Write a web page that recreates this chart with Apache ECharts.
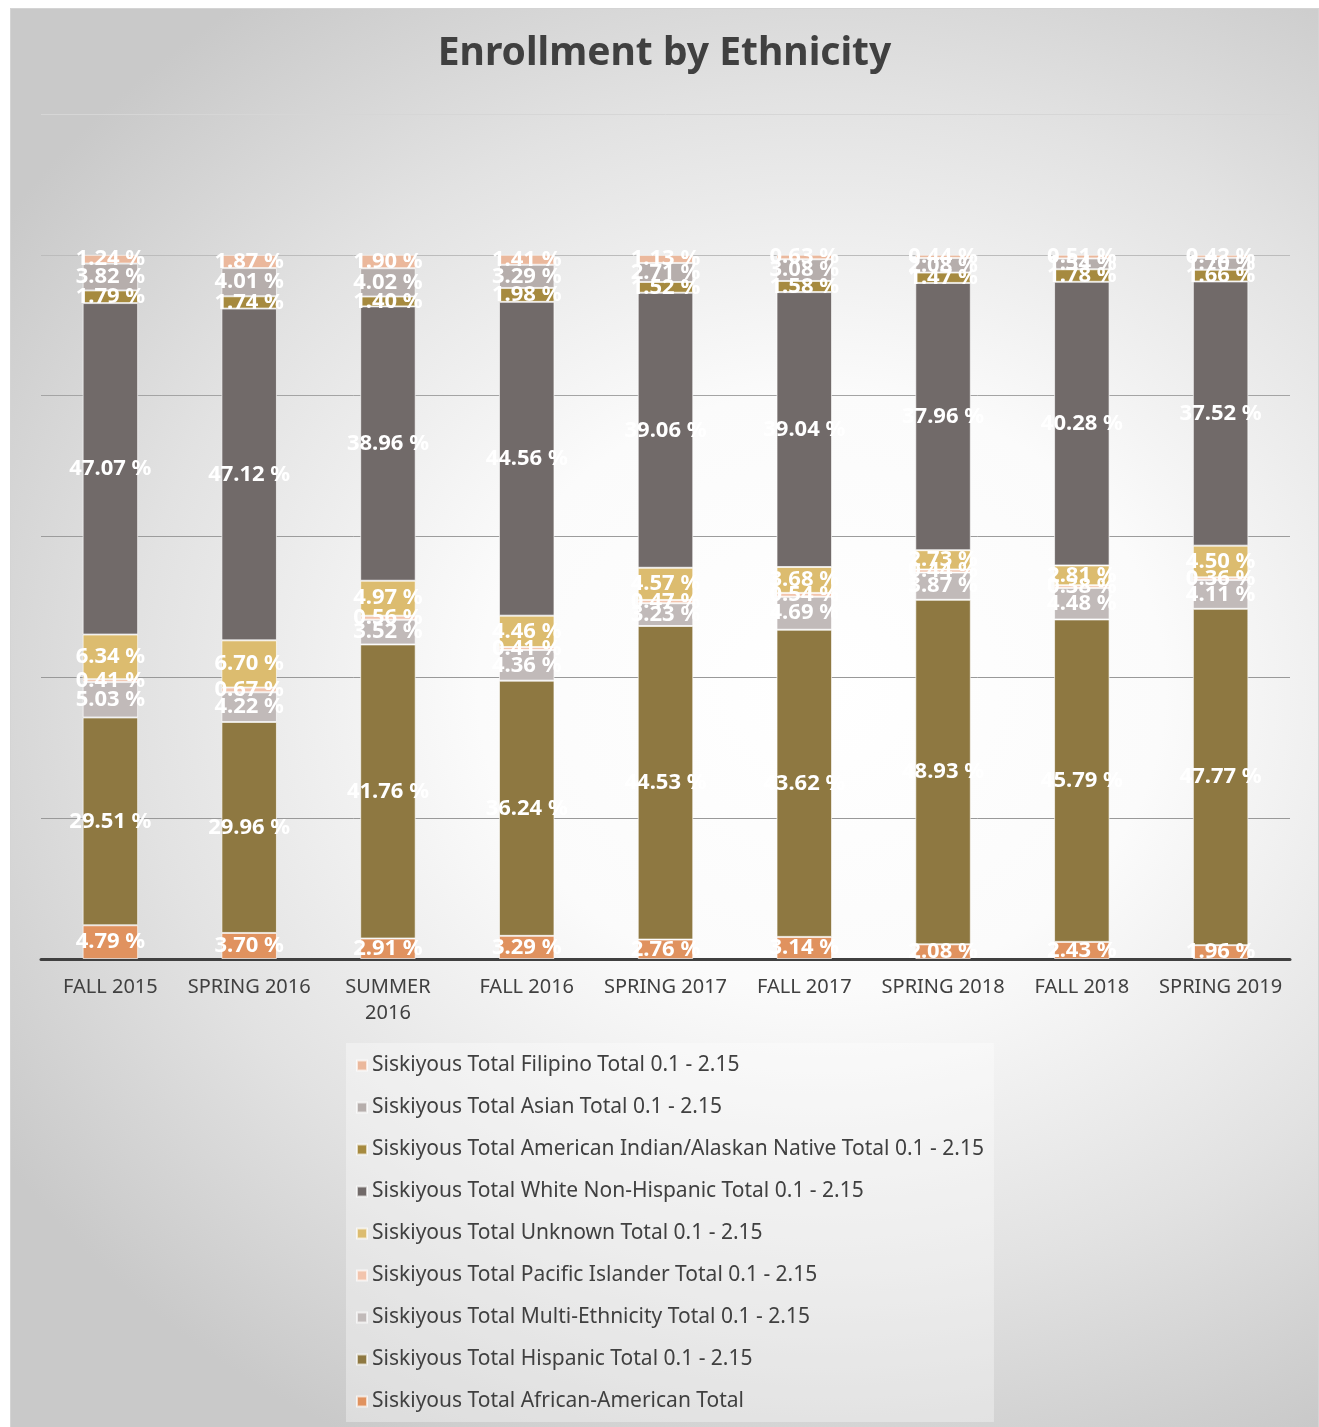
<!DOCTYPE html>
<html>
<head>
<meta charset="utf-8">
<script src="https://cdn.jsdelivr.net/npm/echarts@6/dist/echarts.min.js"></script>
<style>
  html, body { margin: 0; padding: 0; background: #fff; }
  #frame {
    position: absolute; left: 10px; top: 8px; width: 1307px; height: 1418px;
    border: 1px solid #d4d4d4;
    background: radial-gradient(ellipse 75% 60% at 62% 48%, #ffffff 0%, #fbfbfb 35%, #e2e2e2 70%, #c9c9c9 100%);
  }
  #chart { width: 100%; height: 100%; }
</style>
</head>
<body>
<div id="frame"><div id="chart"></div></div>
<script>
var terms = ['FALL 2015', 'SPRING 2016', 'SUMMER\n2016', 'FALL 2016', 'SPRING 2017', 'FALL 2017', 'SPRING 2018', 'FALL 2018', 'SPRING 2019'];

// stacked bottom -> top
var africanAmerican = [4.79, 3.70, 2.91, 3.29, 2.76, 3.14, 2.08, 2.43, 1.96];
var hispanic        = [29.51, 29.96, 41.76, 36.24, 44.53, 43.62, 48.93, 45.79, 47.77];
var multiEthnicity  = [5.03, 4.22, 3.52, 4.36, 3.23, 4.69, 3.87, 4.48, 4.11];
var pacificIslander = [0.41, 0.67, 0.56, 0.41, 0.47, 0.54, 0.44, 0.38, 0.36];
var unknown         = [6.34, 6.70, 4.97, 4.46, 4.57, 3.68, 2.73, 2.81, 4.50];
var whiteNonHisp    = [47.07, 47.12, 38.96, 44.56, 39.06, 39.04, 37.96, 40.28, 37.52];
var amIndian        = [1.79, 1.74, 1.40, 1.98, 1.52, 1.58, 1.47, 1.78, 1.66];
var asian           = [3.82, 4.01, 4.02, 3.29, 2.71, 3.08, 2.08, 1.54, 1.70];
var filipino        = [1.24, 1.87, 1.90, 1.41, 1.13, 0.63, 0.44, 0.51, 0.42];

var groups = [
  { name: 'Siskiyous Total African-American Total', data: africanAmerican, color: '#e0925f' },
  { name: 'Siskiyous Total Hispanic Total 0.1 - 2.15', data: hispanic, color: '#8e7841' },
  { name: 'Siskiyous Total Multi-Ethnicity Total 0.1 - 2.15', data: multiEthnicity, color: '#c1bab9' },
  { name: 'Siskiyous Total Pacific Islander Total 0.1 - 2.15', data: pacificIslander, color: '#f2c4ad' },
  { name: 'Siskiyous Total Unknown Total 0.1 - 2.15', data: unknown, color: '#dcbc6f' },
  { name: 'Siskiyous Total White Non-Hispanic Total 0.1 - 2.15', data: whiteNonHisp, color: '#716a69' },
  { name: 'Siskiyous Total American Indian/Alaskan Native Total 0.1 - 2.15', data: amIndian, color: '#a68a3f' },
  { name: 'Siskiyous Total Asian Total 0.1 - 2.15', data: asian, color: '#b6aeac' },
  { name: 'Siskiyous Total Filipino Total 0.1 - 2.15', data: filipino, color: '#ebb89c' }
];

var fontFam = '"Noto Sans", Lato, sans-serif';

var chart = echarts.init(document.getElementById('chart'));
chart.setOption({
  title: {
    text: 'Enrollment by Ethnicity',
    left: 'center',
    top: 20,
    textStyle: { fontFamily: fontFam, fontSize: 39, fontWeight: 'bold', color: '#404040' }
  },
  legend: {
    orient: 'vertical',
    left: 335,
    top: 1034,
    padding: [12, 10, 10, 10],
    itemGap: 21,
    itemWidth: 10,
    itemHeight: 10,
    icon: 'rect',
    backgroundColor: 'rgba(255,255,255,0.35)',
    data: groups.map(function (g) { return g.name; }).reverse(),
    textStyle: { fontFamily: fontFam, fontSize: 21, color: '#404040', lineHeight: 21 }
  },
  grid: { left: 30, right: 28, top: 105, bottom: 468 },
  xAxis: {
    type: 'category',
    data: terms,
    axisLine: { lineStyle: { color: '#404040', width: 3 } },
    axisTick: { show: false },
    axisLabel: { fontFamily: fontFam, fontSize: 20, color: '#404040', margin: 15, lineHeight: 26, interval: 0 }
  },
  yAxis: {
    type: 'value',
    min: 0, max: 120, interval: 20,
    axisLabel: { show: false },
    axisLine: { show: false },
    axisTick: { show: false },
    splitLine: { lineStyle: { color: ['#999999', '#999999', '#999999', '#9c9c9c', '#a4a4a4', '#bcbcbc', '#d6d6d6'], width: 1 } }
  },
  series: groups.map(function (g) {
    return {
      name: g.name,
      type: 'bar',
      stack: 'total',
      barWidth: '40%',
      data: g.data,
      itemStyle: { color: g.color, borderColor: 'rgba(255,255,255,0.65)', borderWidth: 1 },
      label: {
        show: true,
        position: 'inside',
        formatter: function (p) { return p.value.toFixed(2) + ' %'; },
        fontFamily: fontFam,
        fontSize: 22,
        fontWeight: 'bold',
        color: '#ffffff'
      },
      labelLayout: { hideOverlap: false }
    };
  })
});
</script>
</body>
</html>
